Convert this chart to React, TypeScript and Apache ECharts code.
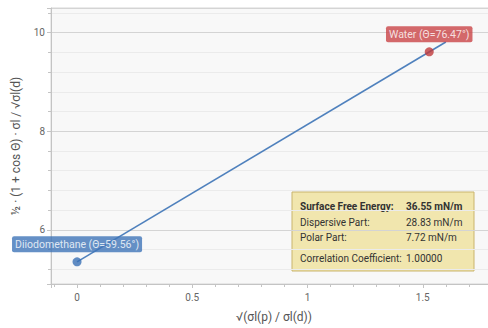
import React, { useEffect, useRef } from "react";
import * as echarts from "echarts";

const liquidNames = ["Diiodomethane (Θ=59.56°)", "Water (Θ=76.47°)"];
const liquidX = [0, 1.528];
const liquidY = [5.35, 9.61];
const liquidColors = ["#3a70b5", "#c0393b"];
const labelColors = ["#3e74b8", "#c94446"];
const fitX = [0, 1.6];
const fitY = [5.35, 9.81];
const infoLabels = ["Surface Free Energy:", "Dispersive Part:", "Polar Part:", "Correlation Coefficient:"];
const infoValues = ["36.55 mN/m", "28.83 mN/m", "7.72 mN/m", "1.00000"];
const xRange = [-0.113, 1.822];
const yRange = [4.9, 10.5];

const FONT = "Roboto, 'Noto Sans', sans-serif";

export default function App() {
  const ref = useRef<HTMLDivElement>(null);
  useEffect(() => {
    if (!ref.current) return;
    const chart = echarts.init(ref.current, null, { renderer: "svg" });
    const isMult = (v: number, step: number) => Math.abs(v / step - Math.round(v / step)) < 1e-6;
    const rowY = [206, 222, 237, 258];
    const infoChildren: any[] = [
      {
        type: "rect",
        shape: { x: 292, y: 192, width: 182, height: 79 },
        style: { fill: "#f1e6ae", stroke: "#c9b46c", lineWidth: 1 },
      },
    ];
    infoLabels.forEach((t, i) => {
      infoChildren.push({
        type: "text",
        x: 300,
        y: rowY[i],
        style: {
          text: t,
          fill: "#333",
          font: `${i === 0 ? "bold " : ""}10px ${FONT}`,
          verticalAlign: "middle",
        },
      });
      infoChildren.push({
        type: "text",
        x: 406,
        y: rowY[i],
        style: {
          text: infoValues[i],
          fill: "#333",
          font: `${i === 0 ? "bold " : ""}10px ${FONT}`,
          verticalAlign: "middle",
        },
      });
    });

    chart.setOption({
      animation: false,
      textStyle: { fontFamily: FONT },
      grid: {
        left: 51,
        top: 8,
        right: 2,
        bottom: 43,
        show: true,
        backgroundColor: "#f8f8f8",
        borderColor: "#d6d6d6",
        borderWidth: 1,
      },
      xAxis: {
        type: "value",
        min: xRange[0],
        max: xRange[1],
        splitNumber: 4,
        name: "√(σl(p) / σl(d))",
        nameLocation: "middle",
        nameGap: 27,
        nameTextStyle: { color: "#555", fontSize: 12, fontFamily: FONT },
        axisLine: { show: true, onZero: false, lineStyle: { color: "#c4c4c4" } },
        axisTick: { show: true, length: 4, lineStyle: { color: "#c4c4c4" } },
        minorTick: { show: true, splitNumber: 5, length: 3, lineStyle: { color: "#c4c4c4" } },
        splitLine: { show: false },
        axisLabel: {
          color: "#666",
          fontSize: 10,
          margin: 8,
          formatter: (v: number) => (isMult(v, 0.5) ? String(v) : ""),
        },
      },
      yAxis: {
        type: "value",
        min: yRange[0],
        max: yRange[1],
        splitNumber: 3,
        name: "½ · (1 + cos Θ) · σl / √σl(d)",
        nameLocation: "middle",
        nameGap: 29,
        nameTextStyle: { color: "#555", fontSize: 12, fontFamily: FONT },
        axisLine: { show: true, onZero: false, lineStyle: { color: "#c4c4c4" } },
        axisTick: { show: true, length: 4, lineStyle: { color: "#c4c4c4" } },
        minorTick: { show: true, splitNumber: 5, length: 3, lineStyle: { color: "#c4c4c4" } },
        splitLine: { show: true, lineStyle: { color: "#d4d4d4" } },
        minorSplitLine: { show: true, lineStyle: { color: "#ebebeb" } },
        axisLabel: {
          color: "#666",
          fontSize: 10,
          margin: 6,
          formatter: (v: number) => (isMult(v, 1) ? String(v) : ""),
        },
      },
      series: [
        {
          type: "line",
          data: fitX.map((x, i) => [x, fitY[i]]),
          showSymbol: false,
          lineStyle: { color: "#4f81bd", width: 1.6 },
          z: 2,
        },
        {
          type: "scatter",
          symbolSize: 9,
          z: 3,
          data: liquidX.map((x, i) => ({
            value: [x, liquidY[i]],
            name: liquidNames[i],
            itemStyle: { color: liquidColors[i] },
            label: {
              show: true,
              position: "top",
              distance: 5,
              formatter: liquidNames[i],
              color: "#fff",
              fontSize: 10.5,
              fontFamily: FONT,
              backgroundColor: labelColors[i],
              padding: [3, 3, 2, 3],
              borderRadius: 2,
            },
          })),
        },
      ],
      graphic: [{ type: "group", children: infoChildren, z: 10 }],
    });
    return () => chart.dispose();
  }, []);
  return (
    <div
      style={{ position: "fixed", left: 0, top: 0, width: 488, height: 328, overflow: "hidden", background: "#fff" }}
    >
      <div ref={ref} style={{ width: 500, height: 328 }} />
    </div>
  );
}
